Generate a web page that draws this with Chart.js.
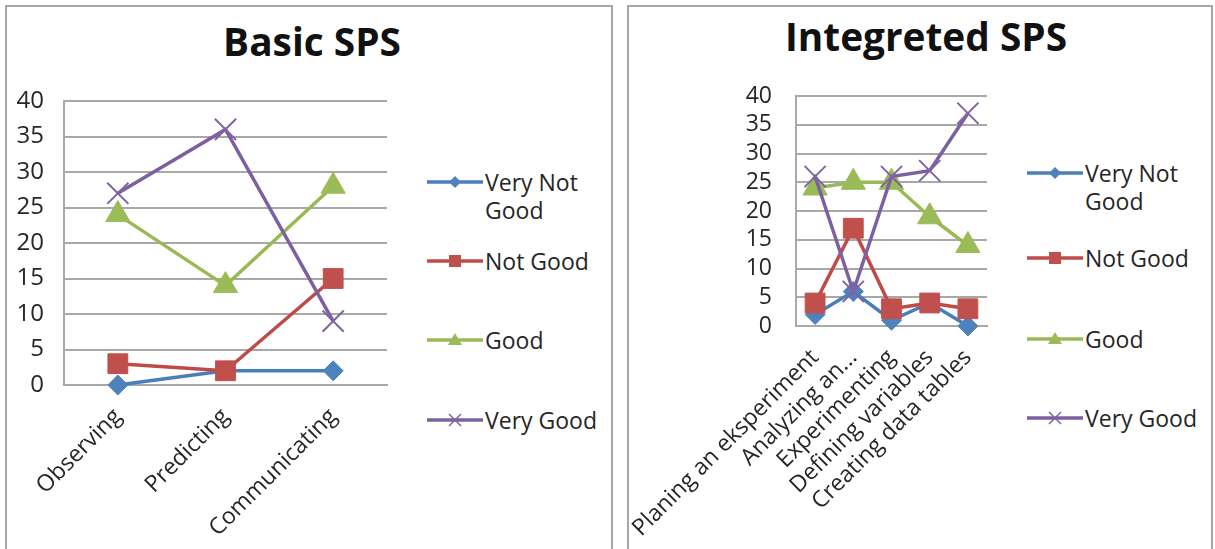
<!DOCTYPE html>
<html lang="en">
<head>
  <meta charset="UTF-8">
  <title>Basic SPS / Integreted SPS</title>
  <script src="https://cdn.jsdelivr.net/npm/chart.js"></script>
  <style>
    body { margin: 0; background: #fff; font-family: "Open Sans", sans-serif; color: #262626; }
    .panel { position: absolute; top: 5px; height: 560px; border: 2px solid #a6a6a6; box-sizing: border-box; }
    #panelL { left: 5px; width: 608px; }
    #panelR { left: 627px; width: 586px; }
    .title { position: absolute; font-weight: bold; font-size: 40px; line-height: 40px; white-space: nowrap; transform: translateX(-50%) scaleX(0.97); color: #111; }
    canvas { position: absolute; top: 0; }
    .item { position: absolute; height: 56px; font-size: 23px; line-height: 28px; }
    .item svg { position: absolute; left: 0; top: 0; }
    .item span { position: absolute; left: 58px; top: 0; white-space: nowrap; }
  </style>
</head>
<body>
  <div class="panel" id="panelL"></div>
  <div class="panel" id="panelR"></div>
  <div class="title" style="left:312px; top:21px;">Basic SPS</div>
  <div class="title" style="left:926px; top:16px;">Integreted SPS</div>

  <canvas id="basic" width="420" height="549" style="left:6px;"></canvas>
  <canvas id="integ" width="400" height="549" style="left:620px;"></canvas>

  <div id="legendL"></div>
  <div id="legendR"></div>

  <script>
    // Basic SPS
    const basicCategories = ["Observing", "Predicting", "Communicating"];
    const basicVeryNotGood = [0, 2, 2];
    const basicNotGood = [3, 2, 15];
    const basicGood = [24, 14, 28];
    const basicVeryGood = [27, 36, 9];

    // Integreted SPS
    const integCategories = ["Planing an eksperiment", "Analyzing an...", "Experimenting", "Defining variables", "Creating data tables"];
    const integVeryNotGood = [2, 6, 1, 4, 0];
    const integNotGood = [4, 17, 3, 4, 3];
    const integGood = [24, 25, 25, 19, 14];
    const integVeryGood = [26, 6, 26, 27, 37];

    const seriesNames = ["Very Not Good", "Not Good", "Good", "Very Good"];
    const legendLines = [["Very Not", "Good"], ["Not Good"], ["Good"], ["Very Good"]];

    const lineColors = ["#4a7ebb", "#be4b48", "#98b954", "#7d60a0"];
    const markColors = ["#4f81bd", "#c0504d", "#9bbb59", "#8064a2"];
    const markStyles = ["rectRot", "rect", "triangle", "crossRot"];
    const markRadius = [10, 14, 14, 15];

    Chart.defaults.font.family = "'Open Sans', sans-serif";
    Chart.defaults.color = "#262626";

    function makeSets(values) {
      return values.map((v, i) => ({
        label: seriesNames[i],
        data: v,
        borderColor: lineColors[i],
        borderWidth: 3.5,
        pointStyle: markStyles[i],
        pointRadius: markRadius[i],
        pointBackgroundColor: markColors[i],
        pointBorderColor: markColors[i],
        pointBorderWidth: i === 3 ? 2 : 1,
        order: 4 - i,
        clip: false,
        tension: 0
      }));
    }

    function makeChart(id, labels, values, area, yPad, ySize) {
      const canvas = document.getElementById(id);
      return new Chart(canvas, {
        type: "line",
        data: { labels: labels, datasets: makeSets(values) },
        options: {
          responsive: false,
          animation: false,
          layout: { padding: { left: 0, top: area.top, right: canvas.width - area.right, bottom: 0 } },
          plugins: { legend: { display: false }, tooltip: { enabled: false } },
          scales: {
            x: {
              offset: true,
              grid: { display: false },
              border: { display: true, color: "#a8a8a8", width: 2 },
              ticks: { minRotation: 45, maxRotation: 45, autoSkip: false, padding: 10, font: { size: 23 } },
              afterFit(s) { s.height = canvas.height - area.bottom; s.paddingLeft = 0; s.paddingRight = 0; }
            },
            y: {
              min: 0,
              max: 40,
              ticks: { stepSize: 5, autoSkip: false, padding: yPad, font: { size: ySize } },
              grid: { color: "#a8a8a8", lineWidth: 2, drawTicks: false },
              border: { display: true, color: "#a8a8a8", width: 2 },
              afterFit(s) { s.width = area.left; }
            }
          }
        }
      });
    }

    makeChart("basic", basicCategories, [basicVeryNotGood, basicNotGood, basicGood, basicVeryGood],
      { left: 58, right: 381, top: 101, bottom: 385 }, 20, 24);
    makeChart("integ", integCategories, [integVeryNotGood, integNotGood, integGood, integVeryGood],
      { left: 176, right: 367, top: 96, bottom: 326 }, 24, 23);

    // HTML legend, line + marker sample like the original
    function markerSvg(i) {
      const c = markColors[i];
      const shapes = [
        `<polygon points="28,8 34,14 28,20 22,14" fill="${c}"/>`,
        `<rect x="22" y="8" width="12" height="12" fill="${c}"/>`,
        `<polygon points="28,7 35,19 21,19" fill="${c}"/>`,
        `<path d="M22,8 L34,20 M34,8 L22,20" stroke="${c}" stroke-width="1.5"/>`
      ];
      return `<svg width="56" height="28"><line x1="0" y1="14" x2="56" y2="14" stroke="${lineColors[i]}" stroke-width="3.5"/>${shapes[i]}</svg>`;
    }

    function makeLegend(id, left, ys) {
      const box = document.getElementById(id);
      legendLines.forEach((lines, i) => {
        const d = document.createElement("div");
        d.className = "item";
        d.style.left = left + "px";
        d.style.top = (ys[i] - 14) + "px";
        d.innerHTML = markerSvg(i) + "<span>" + lines.join("<br>") + "</span>";
        box.appendChild(d);
      });
    }

    makeLegend("legendL", 427, [182, 261, 340, 420]);
    makeLegend("legendR", 1027, [173, 258, 339, 418]);
  </script>
</body>
</html>
